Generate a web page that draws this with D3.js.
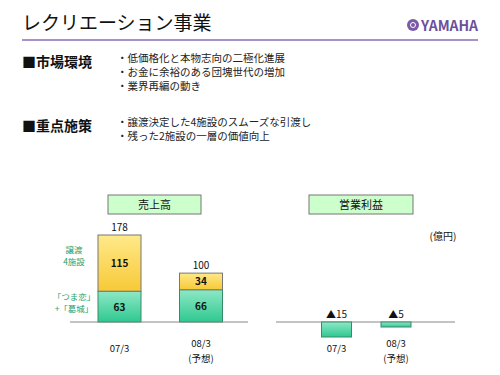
<html>
<head>
<meta charset="utf-8">
<script src="https://d3js.org/d3.v7.min.js"></script>
<style>
  body { margin: 0; background: white; }
  text { font-family: "Noto Sans CJK JP", "Liberation Sans", sans-serif; }
</style>
</head>
<body>
<script>
// data
var periods = ["07/3", "08/3"];
var periodSub = ["", "(予想)"];
var salesBase = [63, 66];          // 「つま恋」+「葛城」
var salesTransfer = [115, 34];     // 譲渡4施設
var salesTotal = [178, 100];
var profit = [-15, -5];
var marketPoints = ["・低価格化と本物志向の二極化進展", "・お金に余裕のある団塊世代の増加", "・業界再編の動き"];
var focusPoints = ["・譲渡決定した4施設のスムーズな引渡し", "・残った2施設の一層の価値向上"];

var width = 500, height = 375;
var svg = d3.select("body").append("svg").attr("width", width).attr("height", height);

var defs = svg.append("defs");
var gy = defs.append("linearGradient").attr("id", "gy").attr("x1", 0).attr("y1", 0).attr("x2", 0).attr("y2", 1);
gy.append("stop").attr("offset", "0%").attr("stop-color", "#ffe98a");
gy.append("stop").attr("offset", "100%").attr("stop-color", "#f7c936");
var gg = defs.append("linearGradient").attr("id", "gg").attr("x1", 0).attr("y1", 0).attr("x2", 0).attr("y2", 1);
gg.append("stop").attr("offset", "0%").attr("stop-color", "#8ee8c6");
gg.append("stop").attr("offset", "100%").attr("stop-color", "#2fc891");

// header
svg.append("text").attr("x", 22).attr("y", 30).attr("font-size", 19).attr("fill", "#111")
  .text("レクリエーション事業");
svg.append("line").attr("x1", 22).attr("x2", 478).attr("y1", 40).attr("y2", 40)
  .attr("stroke", "#8b6bb8").attr("stroke-width", 1.5);

// logo
var logo = svg.append("g").attr("transform", "translate(413,25)");
logo.append("circle").attr("r", 6).attr("fill", "#7b5ba8");
logo.append("circle").attr("r", 2.5).attr("fill", "none").attr("stroke", "white").attr("stroke-width", 1);
svg.append("text").attr("x", 421).attr("y", 30.5).attr("font-size", 14).attr("font-weight", "bold")
  .attr("font-family", "Liberation Sans Narrow, Liberation Sans, sans-serif")
  .attr("fill", "#6c4f9e").attr("textLength", 57).text("YAMAHA");

// bullet sections
function section(y, title, items) {
  svg.append("text").attr("x", 22).attr("y", y + 5).attr("font-size", 14).attr("font-weight", "bold")
    .attr("fill", "#111").text(title);
  svg.selectAll(null).data(items).enter().append("text")
    .attr("x", 117).attr("y", function(d, i) { return y + i * 14; })
    .attr("font-size", 10.5).attr("fill", "#222").text(function(d) { return d; });
}
section(62, "■市場環境", marketPoints);
section(126, "■重点施策", focusPoints);

// title boxes
function titleBox(x, w, label) {
  svg.append("rect").attr("x", x).attr("y", 195).attr("width", w).attr("height", 19)
    .attr("fill", "#ccffcc").attr("stroke", "#777").attr("stroke-width", 1);
  svg.append("text").attr("x", x + w / 2).attr("y", 209).attr("text-anchor", "middle")
    .attr("font-size", 11).attr("fill", "#111").text(label);
}
titleBox(108, 93, "売上高");
titleBox(309, 104, "営業利益");

// sales chart
var x1 = d3.scalePoint().domain(periods).range([119.5, 201]);
var y1 = d3.scaleLinear().domain([0, 178]).range([322, 235]);
var bw1 = 43;

var sales = svg.append("g");
sales.selectAll(".base").data(periods).enter().append("rect")
  .attr("x", function(d) { return x1(d) - bw1 / 2; })
  .attr("y", function(d, i) { return y1(salesBase[i]); })
  .attr("width", bw1)
  .attr("height", function(d, i) { return y1(0) - y1(salesBase[i]); })
  .attr("fill", "url(#gg)").attr("stroke", "#3a8a6a").attr("stroke-width", 1);
sales.selectAll(".top").data(periods).enter().append("rect")
  .attr("x", function(d) { return x1(d) - bw1 / 2; })
  .attr("y", function(d, i) { return y1(salesTotal[i]); })
  .attr("width", bw1)
  .attr("height", function(d, i) { return y1(salesBase[i]) - y1(salesTotal[i]); })
  .attr("fill", "url(#gy)").attr("stroke", "#777").attr("stroke-width", 1);

sales.selectAll(".vb").data(periods).enter().append("text")
  .attr("x", function(d) { return x1(d); })
  .attr("y", function(d, i) { return (y1(0) + y1(salesBase[i])) / 2 + 4; })
  .attr("text-anchor", "middle").attr("font-size", 10).attr("font-weight", "bold").attr("fill", "#111")
  .text(function(d, i) { return salesBase[i]; });
sales.selectAll(".vt").data(periods).enter().append("text")
  .attr("x", function(d) { return x1(d); })
  .attr("y", function(d, i) { return (y1(salesBase[i]) + y1(salesTotal[i])) / 2 + 4; })
  .attr("text-anchor", "middle").attr("font-size", 10).attr("font-weight", "bold").attr("fill", "#111")
  .text(function(d, i) { return salesTransfer[i]; });
sales.selectAll(".tot").data(periods).enter().append("text")
  .attr("x", function(d) { return x1(d); })
  .attr("y", function(d, i) { return y1(salesTotal[i]) - 4; })
  .attr("text-anchor", "middle").attr("font-size", 10).attr("fill", "#111")
  .text(function(d, i) { return salesTotal[i]; });

sales.append("line").attr("x1", 70).attr("x2", 248).attr("y1", y1(0)).attr("y2", y1(0))
  .attr("stroke", "#888").attr("stroke-width", 1);

// legend labels on left
var lg = [["譲渡", "4施設"], ["「つま恋」", "+「葛城」"]];
var lgY = [253, 300];
lg.forEach(function(lines, k) {
  lines.forEach(function(t, j) {
    svg.append("text").attr("x", 74).attr("y", lgY[k] + j * 12).attr("text-anchor", "middle")
      .attr("font-size", 8.5).attr("fill", "#2aa06a").text(t);
  });
});

// profit chart
var x2 = d3.scalePoint().domain(periods).range([336.5, 396]);
var y2 = d3.scaleLinear().domain([-15, 0]).range([337, 322]);
var bw2 = 30;
var prof = svg.append("g");
prof.append("line").attr("x1", 276).attr("x2", 455).attr("y1", y2(0)).attr("y2", y2(0))
  .attr("stroke", "#888").attr("stroke-width", 1);
prof.selectAll("rect").data(periods).enter().append("rect")
  .attr("x", function(d) { return x2(d) - bw2 / 2; })
  .attr("y", y2(0))
  .attr("width", bw2)
  .attr("height", function(d, i) { return y2(profit[i]) - y2(0); })
  .attr("fill", "url(#gg)").attr("stroke", "#3a8a6a").attr("stroke-width", 1);
prof.selectAll(".pv").data(periods).enter().append("text")
  .attr("x", function(d) { return x2(d); })
  .attr("y", y2(0) - 4)
  .attr("text-anchor", "middle").attr("font-size", 10).attr("fill", "#111")
  .text(function(d, i) { return "▲" + Math.abs(profit[i]); });
svg.append("text").attr("x", 443).attr("y", 240).attr("font-size", 10).attr("fill", "#111")
  .attr("text-anchor", "middle").text("(億円)");

// x labels
function xLabels(scale) {
  svg.selectAll(null).data(periods).enter().append("text")
    .attr("x", function(d) { return scale(d); })
    .attr("y", function(d, i) { return periodSub[i] ? 347 : 352; })
    .attr("text-anchor", "middle").attr("font-size", 9.5).attr("fill", "#111")
    .text(function(d) { return d; });
  svg.selectAll(null).data(periods).enter().append("text")
    .attr("x", function(d) { return scale(d); })
    .attr("y", 362)
    .attr("text-anchor", "middle").attr("font-size", 9.5).attr("fill", "#111")
    .text(function(d, i) { return periodSub[i]; });
}
xLabels(x1);
xLabels(x2);
</script>
</body>
</html>
